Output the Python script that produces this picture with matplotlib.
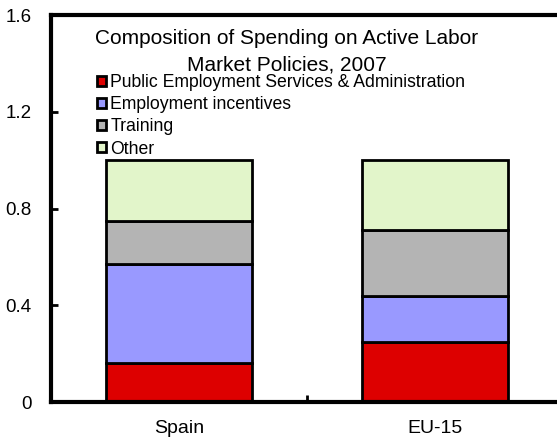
import matplotlib.pyplot as plt
import numpy as np

plt.rcParams["font.family"] = ["Liberation Sans", "DejaVu Sans"]

countries = ["Spain", "EU-15"]
categories = ["Public Employment Services & Administration",
              "Employment incentives", "Training", "Other"]
pes = [0.16, 0.25]
incentives = [0.41, 0.19]
training = [0.18, 0.27]
other = [0.25, 0.29]
colors = ["#DD0000", "#9999FF", "#B4B4B4", "#E2F5CA"]

fig = plt.figure(figsize=(5.57, 4.40), dpi=100)
ax = fig.add_axes([51 / 557, 38 / 440, 512 / 557, 387 / 440])

x = np.arange(len(countries))
bottom = np.zeros(len(countries))
for vals, col, lab in zip([pes, incentives, training, other], colors, categories):
    ax.bar(x, vals, width=0.57, bottom=bottom, color=col, edgecolor="black",
           linewidth=2, label=lab)
    bottom += np.array(vals)

ax.set_xlim(-0.5, 1.5)
ax.set_ylim(0, 1.6)
ax.set_yticks([0, 0.4, 0.8, 1.2, 1.6])
ax.set_yticklabels(["0", "0.4", "0.8", "1.2", "1.6"])
ax.set_xticks(x)
ax.set_xticklabels(countries)
ax.set_xticks([0.5], minor=True)
ax.tick_params(axis="x", which="major", length=0, labelsize=14, pad=13)
ax.tick_params(axis="x", which="minor", direction="in", length=5, width=2)
ax.tick_params(axis="y", direction="in", length=5, width=2, labelsize=13.5, pad=14)
for s in ["left", "bottom", "top"]:
    ax.spines[s].set_linewidth(3)
ax.spines["right"].set_visible(False)

ax.text(0.460, 0.963, "Composition of Spending on Active Labor\nMarket Policies, 2007",
        transform=ax.transAxes, ha="center", va="top", fontsize=15, linespacing=1.45)

leg = ax.legend(loc="upper left", bbox_to_anchor=(0.090, 0.848), frameon=False,
                fontsize=12.7, handlelength=0.5, handleheight=0.5, handletextpad=0.25,
                labelspacing=0.3, borderaxespad=0, borderpad=0)
for h in leg.legend_handles:
    h.set_linewidth(2)

fig.savefig("out.png", dpi=100)
